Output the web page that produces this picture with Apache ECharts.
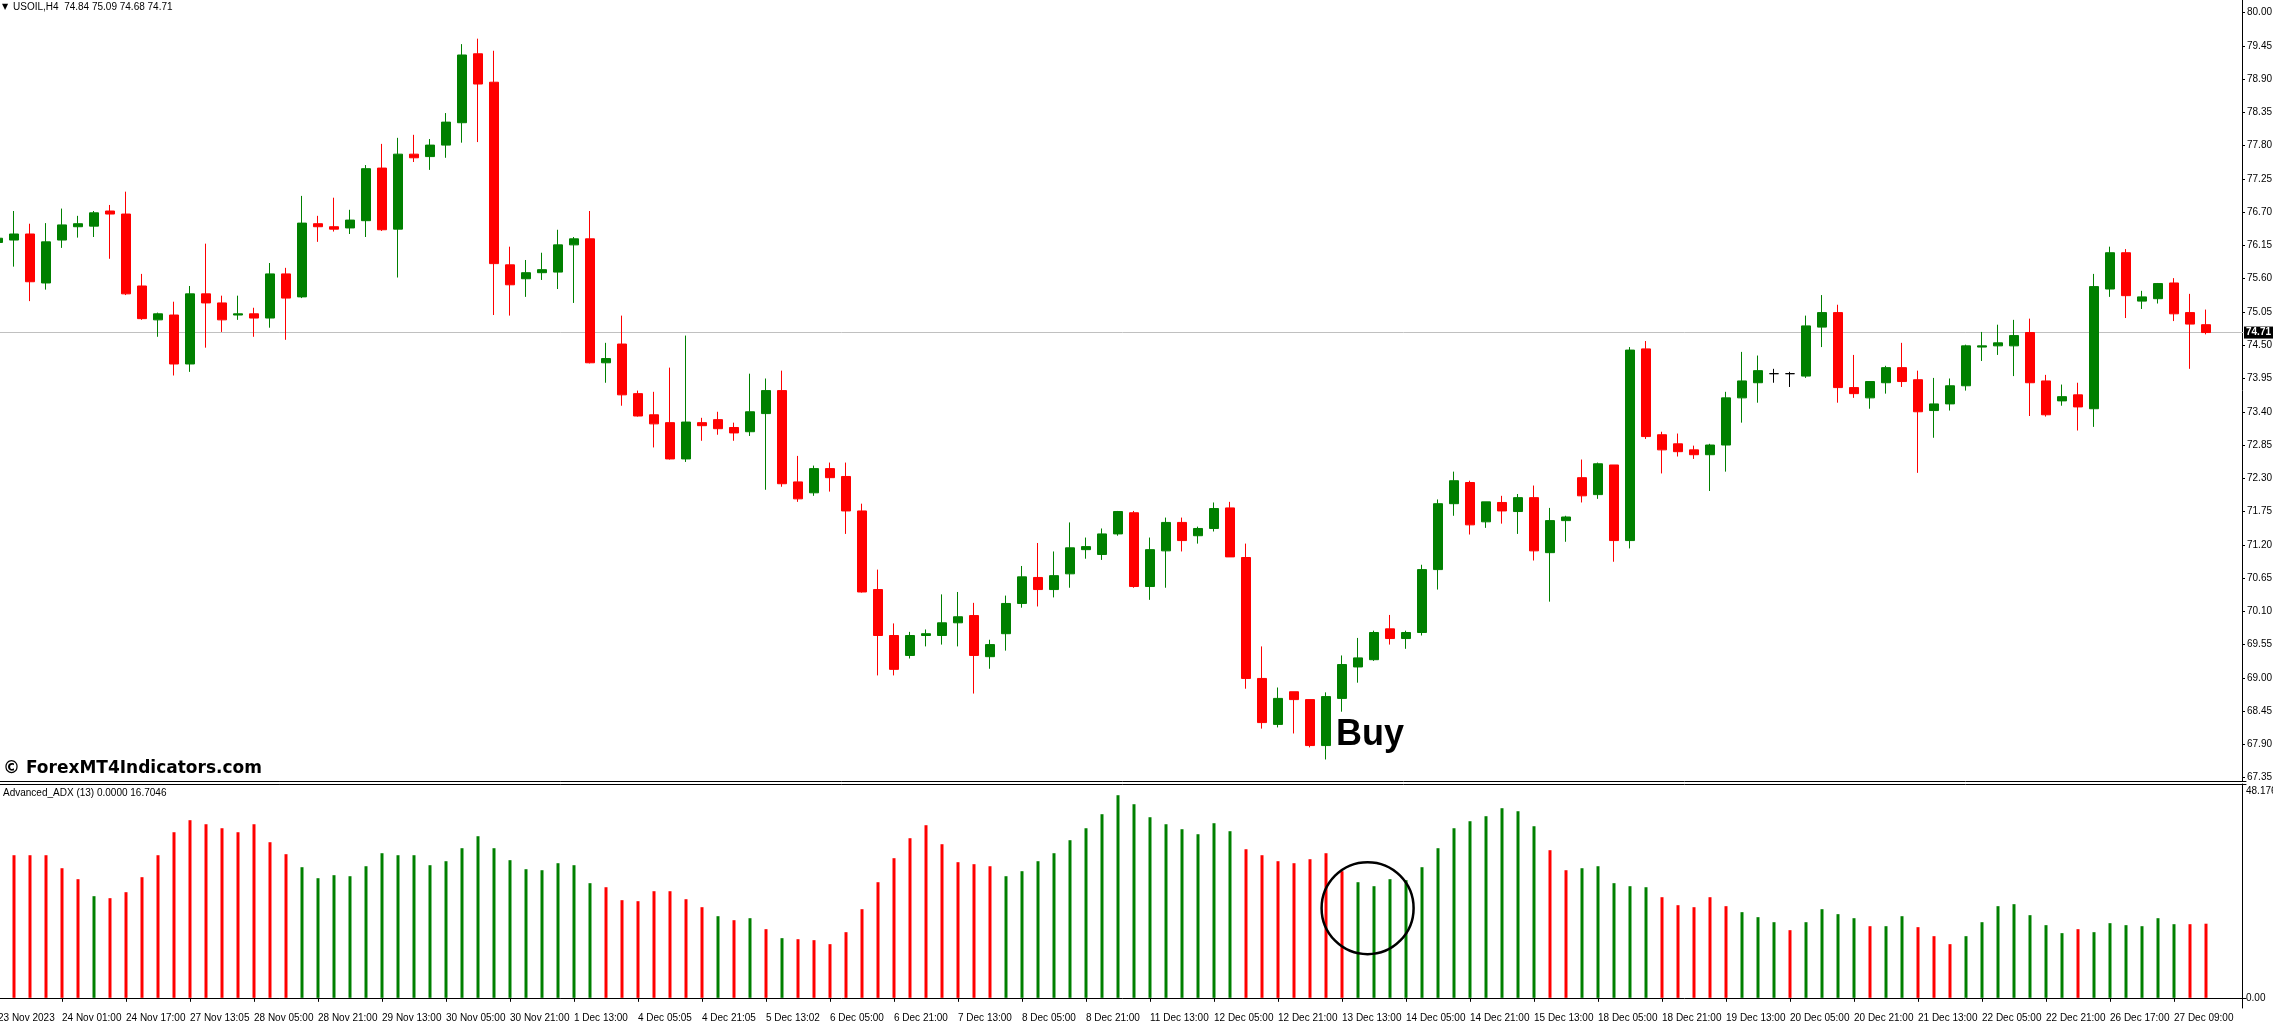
<!DOCTYPE html>
<html>
<head>
<meta charset="utf-8">
<script src="https://cdn.jsdelivr.net/npm/echarts@6/dist/echarts.min.js"></script>
<style>
html,body{margin:0;padding:0;background:#fff;}
#chart{width:2273px;height:1025px;}
</style>
</head>
<body>
<div id="chart"></div>
<script>
// ---------- texts ----------
const symbolInfo = 'USOIL,H4  74.84 75.09 74.68 74.71';
const indicatorInfo = 'Advanced_ADX (13) 0.0000 16.7046';
const watermark = '\u00A9 ForexMT4Indicators.com';
const signalText = 'Buy';
const firstDateLabel = '23 Nov 2023';
// time labels, one every 4 bars starting at bar 3
const tickLabels = ['24 Nov 01:00','24 Nov 17:00','27 Nov 13:05','28 Nov 05:00','28 Nov 21:00','29 Nov 13:00',
  '30 Nov 05:00','30 Nov 21:00','1 Dec 13:00','4 Dec 05:05','4 Dec 21:05','5 Dec 13:02','6 Dec 05:00',
  '6 Dec 21:00','7 Dec 13:00','8 Dec 05:00','8 Dec 21:00','11 Dec 13:00','12 Dec 05:00','12 Dec 21:00',
  '13 Dec 13:00','14 Dec 05:00','14 Dec 21:00','15 Dec 13:00','18 Dec 05:00','18 Dec 21:00','19 Dec 13:00',
  '20 Dec 05:00','20 Dec 21:00','21 Dec 13:00','22 Dec 05:00','22 Dec 21:00','26 Dec 17:00','27 Dec 09:00'];
const priceTicks = [67.35,67.90,68.45,69.00,69.55,70.10,70.65,71.20,71.75,72.30,72.85,73.40,73.95,74.50,
  75.05,75.60,76.15,76.70,77.25,77.80,78.35,78.90,79.45,80.00];
const adxTicks = [48.176, 0, -2.294];
const lastPrice = 74.71;

// ---------- candles (first entry is the partly hidden bar before bar 0) ----------
const opens = [76.20,
 76.24,76.34,75.53,76.24,76.46,76.47,76.72,76.67,75.48,74.92,
 75.00,74.19,75.35,75.20,75.00,75.02,74.95,75.68,75.30,76.51,
 76.46,76.44,76.56,77.43,76.42,77.66,77.62,77.81,78.18,79.32,
 78.85,75.83,75.60,75.70,75.71,76.16,76.26,74.21,74.52,73.70,
 73.35,73.22,72.62,73.22,73.27,73.14,73.07,73.37,73.75,72.24,
 72.06,72.46,72.33,71.76,70.46,69.70,69.37,69.70,69.70,69.91,
 70.03,69.35,69.73,70.23,70.66,70.46,70.72,71.12,71.04,71.38,
 71.73,70.51,71.10,71.57,71.35,71.47,71.81,70.99,68.99,68.23,
 68.77,68.64,67.88,68.66,69.18,69.30,69.81,69.65,69.75,70.79,
 71.88,72.23,71.58,71.90,71.75,71.98,71.07,71.60,72.31,72.03,
 72.52,71.27,74.44,73.02,72.87,72.77,72.69,72.85,73.63,73.88,
 74.03,74.03,73.99,74.80,75.04,73.80,73.63,73.88,74.13,73.93,
 73.42,73.53,73.83,74.47,74.49,74.49,74.71,73.91,73.58,73.68,
 73.45,75.43,76.03,75.23,75.27,75.53,75.04,74.84];
const highs = [76.30,
 76.72,76.51,76.52,76.76,76.64,76.72,76.82,77.04,75.68,75.04,
 75.22,75.48,76.18,75.32,75.32,75.12,75.86,75.78,76.97,76.64,
 76.94,76.74,77.48,77.83,77.93,77.98,77.91,78.34,79.48,79.57,
 79.37,76.13,75.91,76.03,76.41,76.29,76.72,74.54,74.99,73.75,
 73.73,74.13,74.66,73.30,73.40,73.22,74.03,73.95,74.08,72.67,
 72.51,72.56,72.56,71.88,70.79,69.90,69.76,69.80,70.38,70.42,
 70.24,69.63,70.36,70.85,71.23,71.09,71.57,71.32,71.47,71.76,
 71.76,71.32,71.65,71.65,71.50,71.90,71.91,71.22,69.52,68.84,
 68.77,68.64,68.76,69.37,69.66,69.78,70.04,69.78,70.87,71.95,
 72.41,72.26,71.91,72.01,72.04,72.18,71.81,71.68,72.61,72.56,
 72.52,74.47,74.57,73.07,73.04,72.84,72.87,73.73,74.39,74.33,
 74.11,74.06,74.99,75.33,75.17,74.34,73.90,74.16,74.54,74.08,
 73.96,73.95,74.51,74.72,74.84,74.92,74.94,74.01,73.85,73.88,
 75.68,76.13,76.09,75.40,75.53,75.61,75.35,75.09];
const lows = [76.15,
 75.80,75.23,75.42,76.11,76.28,76.29,75.93,75.33,74.92,74.64,
 74.00,74.06,74.46,74.72,74.92,74.64,74.79,74.59,75.28,76.21,
 76.38,76.34,76.29,76.39,75.62,77.53,77.40,77.60,77.85,77.86,
 75.00,74.99,75.30,75.58,75.43,75.20,74.20,73.88,73.50,73.32,
 72.81,72.61,72.57,72.92,73.02,72.92,73.00,72.11,72.16,71.91,
 72.01,72.08,71.38,70.41,69.04,69.04,69.32,69.52,69.55,69.52,
 68.74,69.15,69.45,70.16,70.18,70.33,70.49,70.97,70.95,71.35,
 70.49,70.29,70.49,71.09,71.22,71.42,71.00,68.82,68.16,68.18,
 68.08,67.85,67.65,68.44,68.92,69.28,69.55,69.48,69.70,70.46,
 71.68,71.37,71.48,71.55,71.38,70.94,70.26,71.25,71.90,71.96,
 70.92,71.14,72.95,72.38,72.66,72.62,72.09,72.41,73.22,73.55,
 73.88,73.81,73.96,74.47,73.55,73.63,73.45,73.70,73.81,72.39,
 72.97,73.42,73.75,74.24,74.34,73.99,73.33,73.32,73.50,73.09,
 73.15,75.30,74.95,75.10,75.19,74.90,74.11,74.68];
const closes = [76.27,
 76.34,75.55,76.21,76.49,76.51,76.69,76.67,75.35,74.94,75.02,
 74.19,75.35,75.20,74.92,75.02,74.95,75.68,75.28,76.52,76.46,
 76.42,76.57,77.42,76.41,77.66,77.60,77.81,78.19,79.30,78.82,
 75.85,75.50,75.70,75.75,76.16,76.26,74.21,74.28,73.68,73.33,
 73.20,72.62,73.23,73.17,73.12,73.05,73.40,73.75,72.21,71.96,
 72.46,72.31,71.76,70.42,69.70,69.14,69.70,69.73,69.91,70.01,
 69.37,69.55,70.23,70.67,70.46,70.69,71.15,71.17,71.38,71.75,
 70.51,71.12,71.57,71.27,71.47,71.80,71.00,68.99,68.26,68.66,
 68.64,67.88,68.69,69.22,69.33,69.75,69.65,69.75,70.79,71.88,
 72.26,71.53,71.91,71.76,71.98,71.10,71.60,71.66,72.01,72.54,
 71.27,74.42,72.99,72.77,72.74,72.69,72.85,73.63,73.91,74.08,
 74.03,74.03,74.82,75.04,73.80,73.70,73.90,74.13,73.90,73.40,
 73.53,73.83,74.49,74.49,74.54,74.66,73.88,73.35,73.65,73.48,
 75.47,76.03,75.32,75.30,75.52,75.02,74.85,74.71];

// ---------- Advanced_ADX histogram (bars 0..137) ----------
const adxValues = [
 32.13,32.13,32.13,29.20,26.73,22.90,22.45,23.80,27.18,32.13,
 37.31,40.02,39.11,38.21,37.31,39.11,35.06,32.36,29.43,26.95,
 27.63,27.40,29.65,32.58,32.13,32.13,29.88,30.78,33.71,36.41,
 33.71,31.01,28.98,28.75,30.33,29.88,25.83,24.92,22.00,21.77,
 24.02,24.02,22.22,20.42,18.39,17.49,17.94,15.47,13.44,13.21,
 12.99,12.09,14.79,19.97,26.05,31.46,35.96,38.89,34.61,30.56,
 30.11,29.65,27.40,28.53,30.78,32.58,35.51,38.21,41.37,45.65,
 43.62,40.69,39.11,37.99,36.86,39.34,37.54,33.48,32.13,30.78,
 30.33,31.23,32.58,28.53,26.05,25.15,26.73,26.50,29.43,33.71,
 38.21,39.79,40.92,42.72,42.04,38.66,33.26,28.75,29.20,29.65,
 25.83,25.15,24.92,22.67,20.87,20.42,22.67,20.65,19.30,18.17,
 17.04,15.24,17.04,19.97,18.85,17.94,16.14,16.14,18.39,15.92,
 13.89,12.09,13.89,17.04,20.65,21.10,18.62,16.37,14.57,15.47,
 14.79,16.82,16.37,16.14,17.94,16.59,16.59,16.70];
// colour runs of the histogram: [direction, number of bars]
const adxRuns = [['R',5],['G',1],['R',12],['G',19],['R',7],['G',1],['R',1],['G',1],['R',1],['G',1],
  ['R',13],['G',15],['R',7],['G',12],['R',2],['G',5],['R',5],['G',3],['R',1],['G',4],['R',1],['G',2],
  ['R',3],['G',7],['R',1],['G',6],['R',2]];

// ---------- styling ----------
const GREEN = '#008000';
const RED = '#ff0000';
const FONT = '"Liberation Sans", Arial, sans-serif';

const adxDir = [];
adxRuns.forEach(([d, n]) => { for (let k = 0; k < n; k++) adxDir.push(d); });

const CAT_COUNT = 141;               // leading hidden bar + 138 bars + right margin
const cats = Array.from({length: CAT_COUNT}, (_, i) => String(i));
const labelAt = {0: firstDateLabel};
tickLabels.forEach((t, j) => { labelAt[1 + 3 + 4 * j] = t; });

const candleData = opens.map((o, i) => [o, closes[i], lows[i], highs[i]]);
const adxData = ['-'].concat(adxValues.map((v, i) => ({
  value: v, itemStyle: {color: adxDir[i] === 'G' ? GREEN : RED}
})));

const chart = echarts.init(document.getElementById('chart'), null, {renderer: 'canvas'});

const axisBlack = {show: true, lineStyle: {color: '#000', width: 1}};

const option = {
  animation: false,
  backgroundColor: '#ffffff',
  textStyle: {fontFamily: FONT},
  grid: [
    {left: -10, width: 2256, top: 0, height: 781, containLabel: false, outerBoundsMode: 'none'},
    {left: -10, width: 2256, top: 784, height: 224, containLabel: false, outerBoundsMode: 'none'}
  ],
  xAxis: [
    {type: 'category', gridIndex: 0, data: cats, boundaryGap: true,
     axisLine: axisBlack, axisTick: {show: false}, axisLabel: {show: false}, splitLine: {show: false}},
    {type: 'category', gridIndex: 1, data: cats, boundaryGap: true, position: 'bottom',
     axisLine: axisBlack,
     axisTick: {show: true, alignWithLabel: true, length: 4, lineStyle: {color: '#000'},
       interval: (i) => i > 0 && labelAt[i] !== undefined},
     axisLabel: {show: true, interval: (i) => labelAt[i] !== undefined,
       formatter: (v, i) => labelAt[i] || '', align: 'left', color: '#000',
       fontSize: 10, fontFamily: FONT, margin: 5},
     splitLine: {show: false}},
    {type: 'category', gridIndex: 1, data: cats, boundaryGap: true, position: 'top',
     axisLine: axisBlack, axisTick: {show: false}, axisLabel: {show: false}, splitLine: {show: false}}
  ],
  yAxis: [
    {type: 'value', gridIndex: 0, position: 'right', offset: -4, min: 67.294, max: 80.2095,
     splitLine: {show: false}, axisLine: axisBlack,
     axisTick: {show: true, inside: false, length: 3, customValues: priceTicks, lineStyle: {color: '#000'}},
     axisLabel: {show: true, customValues: priceTicks, formatter: (v) => v.toFixed(2),
       color: '#000', fontSize: 10, fontFamily: FONT, margin: 5}},
    {type: 'value', gridIndex: 1, position: 'right', offset: -4, min: -2.294, max: 48.176,
     splitLine: {show: false}, axisLine: axisBlack,
     axisTick: {show: true, inside: false, length: 3, customValues: [48.176, 0], lineStyle: {color: '#000'}},
     axisLabel: {show: true, customValues: adxTicks, margin: 4,
       formatter: (v) => Math.abs(v - 48.176) < 1e-6 ? '{t|48.176}' : (Math.abs(v) < 1e-6 ? '{z|0.00}' : '{m|-2.294}'),
       rich: {
         t: {padding: [15, 0, 0, 0], fontSize: 10, color: '#000', fontFamily: FONT},
         z: {fontSize: 10, color: '#000', fontFamily: FONT},
         m: {padding: [0, 0, 10, 0], fontSize: 10, color: '#000', fontFamily: FONT}
       }}}
  ],
  series: [
    {type: 'candlestick', name: 'USOIL', xAxisIndex: 0, yAxisIndex: 0, z: 2,
     data: candleData, barWidth: 10,
     itemStyle: {color: GREEN, color0: RED, borderColor: GREEN, borderColor0: RED,
       borderColorDoji: '#000', borderWidth: 1},
     markLine: {
       z: 1, silent: true, symbol: ['none', 'none'], animation: false,
       data: [{yAxis: lastPrice}],
       lineStyle: {color: '#c0c0c0', width: 1, type: 'solid'},
       label: {show: true, position: 'end', distance: -2, formatter: lastPrice.toFixed(2),
         color: '#fff', backgroundColor: '#000', padding: [1, 2, 1, 2],
         fontSize: 10, fontWeight: 'bold', fontFamily: FONT},
       emphasis: {disabled: true}
     }},
    {type: 'bar', name: 'Advanced_ADX', xAxisIndex: 1, yAxisIndex: 1, barWidth: 3,
     data: adxData}
  ],
  graphic: [
    {type: 'text', id: 'tri', x: 2, y: 7, z: 50,
     style: {text: '\u25BC', fontSize: 8, fontFamily: '"DejaVu Sans"', fill: '#000', align: 'left', verticalAlign: 'middle'}},
    {type: 'text', id: 'sym', x: 13, y: 7, z: 50,
     style: {text: symbolInfo, fontSize: 10, fontFamily: FONT, fill: '#000', align: 'left', verticalAlign: 'middle'}},
    {type: 'text', id: 'wm', x: 3, y: 769, z: 50,
     style: {text: watermark, fontSize: 17, fontWeight: 'bold', fontFamily: '"DejaVu Sans"', fill: '#000', align: 'left', verticalAlign: 'middle'}},
    {type: 'text', id: 'ind', x: 3, y: 793, z: 50,
     style: {text: indicatorInfo, fontSize: 10, fontFamily: FONT, fill: '#000', align: 'left', verticalAlign: 'middle'}}
  ]
};

chart.setOption(option);

// annotations anchored to data coordinates
const buyBar = 82;      // bar index of the signal candle
const ringBar = 84.6;   // centre of the circled histogram bars
const ringLevel = 20.2;
const pBuy = chart.convertToPixel({xAxisIndex: 0, yAxisIndex: 0}, [buyBar + 1, lows[buyBar + 1]]);
const r0 = Math.floor(ringBar);
const pA = chart.convertToPixel({xAxisIndex: 1, yAxisIndex: 1}, [r0 + 1, ringLevel]);
const pB = chart.convertToPixel({xAxisIndex: 1, yAxisIndex: 1}, [r0 + 2, ringLevel]);
const cx = pA[0] + (pB[0] - pA[0]) * (ringBar - r0);

chart.setOption({
  graphic: [
    {type: 'text', id: 'buy', x: pBuy[0] + 10, y: pBuy[1] - 24, z: 60,
     style: {text: signalText, fontSize: 36, fontWeight: 'bold', fontFamily: FONT, fill: '#000', align: 'left', verticalAlign: 'middle'}},
    {type: 'circle', id: 'ring', z: 60,
     shape: {cx: cx, cy: pA[1], r: 46},
     style: {fill: 'transparent', stroke: '#000', lineWidth: 2.5}}
  ]
});
</script>
</body>
</html>
